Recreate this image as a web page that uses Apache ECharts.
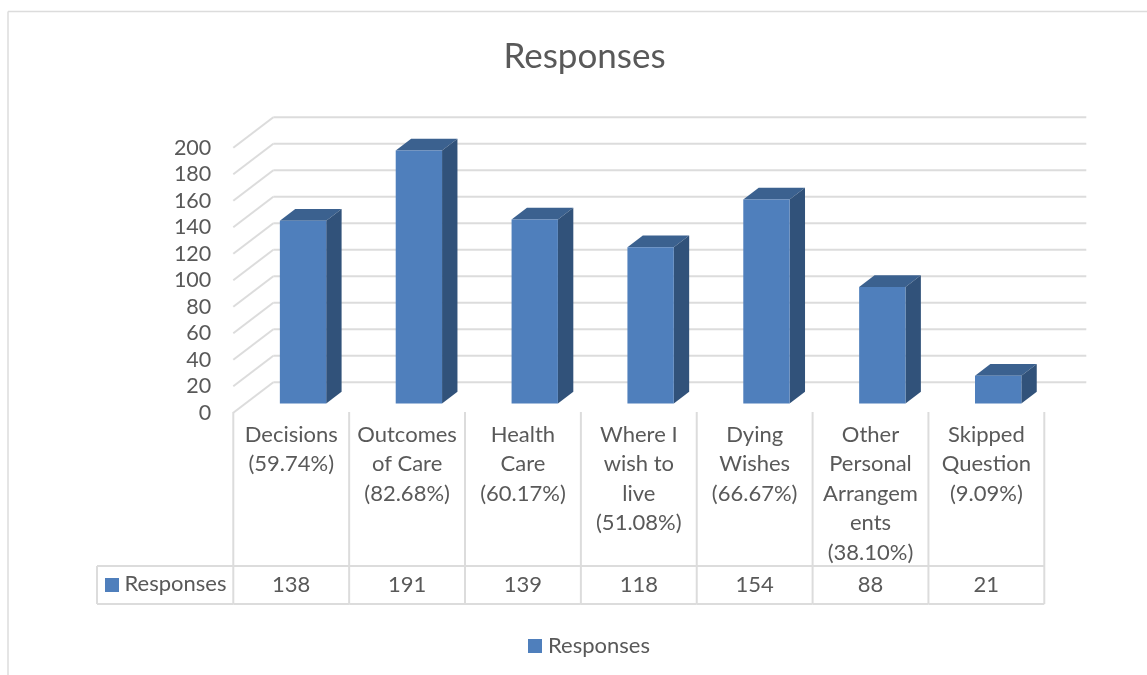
<!DOCTYPE html>
<html>
<head>
<meta charset="utf-8">
<title>Responses</title>
<script src="https://cdn.jsdelivr.net/npm/echarts@6/dist/echarts.min.js"></script>
<style>
html,body{margin:0;padding:0;background:#fff;}
#chart{width:1147px;height:675px;}
</style>
</head>
<body>
<div id="chart"></div>
<script>
var categories = [
	"Decisions\n(59.74%)",
	"Outcomes\nof Care\n(82.68%)",
	"Health\nCare\n(60.17%)",
	"Where I\nwish to\nlive\n(51.08%)",
	"Dying\nWishes\n(66.67%)",
	"Other\nPersonal\nArrangem\nents\n(38.10%)",
	"Skipped\nQuestion\n(9.09%)"
]
var responses = [138, 191, 139, 118, 154, 88, 21]
var yTicks = [0, 20, 40, 60, 80, 100, 120, 140, 160, 180, 200]
var seriesName = "Responses"

var TEXT = "#595959", LINE = "#dcdcdc"
var FRONT = "#4f7fbc", TOP = "#3b618f", SIDE = "#31527a"
var FONT = "Lato, 'Open Sans', sans-serif"
// 3d depth of the plot floor
var DEPTH_X = 40, DEPTH_Y = 30.5
// table rows
var TABLE_TOP = 412, ROW_TOP = 566, ROW_BOTTOM = 604, TABLE_LEFT = 97

function lineEl(x1, y1, x2, y2, w){
	return {
		type: "line",
		shape: {x1: x1, y1: y1, x2: x2, y2: y2},
		style: {stroke: LINE, lineWidth: w || 2}
	}
}

function renderWall(params, api){ // slanted + back grid lines
	var p = api.coord([0, api.value(0)])
	var size = api.size([1, 0])
	var left = p[0] - size[0] / 2
	var right = left + size[0] * categories.length
	return {
		type: "group",
		children: [
			lineEl(left, p[1], left + DEPTH_X, p[1] - DEPTH_Y),
			lineEl(left + DEPTH_X, p[1] - DEPTH_Y, right + DEPTH_X + 2, p[1] - DEPTH_Y)
		]
	}
}

function renderBar(params, api){
	var base = api.coord([api.value(0), 0])
	var top = api.coord([api.value(0), api.value(1)])
	var band = api.size([1, 0])[0]
	// bar sits in the middle of the floor depth
	var w = band * 0.4
	var ox = DEPTH_X * 0.295, oy = DEPTH_Y * 0.3
	var dx = DEPTH_X * 0.385, dy = DEPTH_Y * 0.385
	var x0 = base[0] - w / 2 + ox, x1 = x0 + w
	var y0 = base[1] - oy, y1 = top[1] - oy
	return {
		type: "group",
		children: [
			{
				type: "polygon",
				shape: {points: [[x0, y1], [x1, y1], [x1 + dx, y1 - dy], [x0 + dx, y1 - dy]]},
				style: {fill: TOP}
			},
			{
				type: "polygon",
				shape: {points: [[x1, y1], [x1 + dx, y1 - dy], [x1 + dx, y0 - dy], [x1, y0]]},
				style: {fill: SIDE}
			},
			{
				type: "rect",
				shape: {x: x0, y: y1, width: w, height: y0 - y1},
				style: {fill: FRONT}
			}
		]
	}
}

function renderTable(params, api){ // data table under the axis
	var i = api.value(0)
	var p = api.coord([i, 0])
	var band = api.size([1, 0])[0]
	var left = p[0] - band / 2
	var children = [
		lineEl(left, TABLE_TOP, left, ROW_BOTTOM),
		lineEl(left, ROW_TOP, left + band, ROW_TOP),
		lineEl(left, ROW_BOTTOM, left + band, ROW_BOTTOM),
		{
			type: "text",
			style: {
				x: p[0], y: (ROW_TOP + ROW_BOTTOM) / 2,
				text: String(api.value(1)),
				fill: TEXT, font: "22px " + FONT,
				align: "center", verticalAlign: "middle"
			}
		}
	]
	if(i === categories.length - 1)
		children.push(lineEl(left + band, TABLE_TOP, left + band, ROW_BOTTOM))
	if(i === 0){
		children.push(
			lineEl(TABLE_LEFT, ROW_TOP, left, ROW_TOP),
			lineEl(TABLE_LEFT, ROW_BOTTOM, left, ROW_BOTTOM),
			lineEl(TABLE_LEFT, ROW_TOP, TABLE_LEFT, ROW_BOTTOM),
			{
				type: "rect",
				shape: {x: 105, y: 578, width: 14, height: 14},
				style: {fill: FRONT}
			},
			{
				type: "text",
				style: {
					x: 124.5, y: (ROW_TOP + ROW_BOTTOM) / 2 - 1,
					text: seriesName,
					fill: TEXT, font: "22px " + FONT,
					align: "left", verticalAlign: "middle"
				}
			}
		)
	}
	return {type: "group", children: children}
}

var option = {
	animation: false,
	backgroundColor: "#fff",
	title: {
		text: seriesName,
		left: 579.5,
		top: 34,
		textAlign: "center",
		textStyle: {color: TEXT, fontFamily: FONT, fontSize: 35, fontWeight: 400}
	},
	legend: {
		data: [seriesName],
		left: 523,
		top: 630,
		icon: "rect",
		itemWidth: 14,
		itemHeight: 14,
		itemGap: 6,
		selectedMode: false,
		textStyle: {color: TEXT, fontFamily: FONT, fontSize: 22, padding: [0, 0, 0, 1]}
	},
	grid: {left: 233.3, top: 147.7, width: 811, height: 265},
	xAxis: {
		type: "category",
		data: categories,
		axisLine: {show: false},
		axisTick: {show: false},
		axisLabel: {
			interval: 0,
			margin: 7,
			color: TEXT,
			fontFamily: FONT,
			fontSize: 22,
			lineHeight: 29.5,
			align: "center",
			verticalAlign: "top"
		}
	},
	yAxis: {
		type: "value",
		min: 0,
		max: 200,
		interval: 20,
		axisLine: {show: false},
		axisTick: {show: false},
		splitLine: {show: false},
		axisLabel: {margin: 22, color: TEXT, fontFamily: FONT, fontSize: 21.5}
	},
	graphic: [
		{type: "line", silent: true, shape: {x1: 8, y1: 11.5, x2: 1147, y2: 11.5}, style: {stroke: LINE, lineWidth: 1.5}},
		{type: "line", silent: true, shape: {x1: 8, y1: 11.5, x2: 8, y2: 675}, style: {stroke: LINE, lineWidth: 1.5}}
	],
	series: [
		{
			type: "custom",
			name: "wall",
			silent: true,
			z: 1,
			renderItem: renderWall,
			data: yTicks.map(function(v){ return [v] })
		},
		{
			type: "custom",
			name: "table",
			silent: true,
			z: 1,
			renderItem: renderTable,
			data: responses.map(function(v, i){ return [i, v] })
		},
		{
			type: "custom",
			name: seriesName,
			z: 2,
			itemStyle: {color: FRONT},
			renderItem: renderBar,
			encode: {x: 0, y: 1},
			data: responses.map(function(v, i){ return [i, v] })
		}
	]
}

var myChart = echarts.init(document.getElementById("chart"))
myChart.setOption(option)
</script>
</body>
</html>
